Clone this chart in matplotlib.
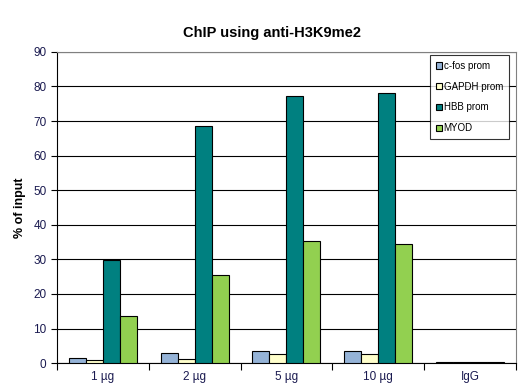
import numpy as np
import matplotlib.pyplot as plt

plt.rcParams['font.family'] = ['Liberation Sans', 'DejaVu Sans']

categorias = ["1 µg", "2 µg", "5 µg", "10 µg", "IgG"]
series = ["c-fos prom", "GAPDH prom", "HBB prom", "MYOD"]
cfos = [1.4, 2.8, 3.4, 3.4, 0.2]
gapdh = [1.0, 1.3, 2.5, 2.5, 0.2]
hbb = [29.8, 68.5, 77.2, 78.1, 0.2]
myod = [13.6, 25.6, 35.4, 34.3, 0.2]
cores = ["#95B3D7", "#FFFFCC", "#008080", "#92D050"]

fig = plt.figure(figsize=(5.27, 3.90), dpi=100)
ax = fig.add_axes([0.108, 0.069, 0.871, 0.798])

x = np.arange(len(categorias))
w = 0.185
valores = [cfos, gapdh, hbb, myod]
for i, (nome, v, c) in enumerate(zip(series, valores, cores)):
    ax.bar(x + (i - 1.5) * w, v, w, color=c, edgecolor="black", linewidth=0.8,
           label=nome, zorder=3)

ax.set_xlim(-0.5, len(categorias) - 0.5)
ax.set_ylim(0, 90)
ax.set_yticks(range(0, 91, 10))
ax.yaxis.grid(True, color="black", linewidth=0.8, zorder=0)
ax.set_xticks(x)
ax.set_xticklabels(categorias, fontsize=8.5)
ax.set_xticks(np.arange(-0.5, len(categorias)), minor=True)
ax.tick_params(axis="x", which="major", length=0, pad=6)
ax.tick_params(axis="x", which="minor", length=5, direction="out", width=0.8)
ax.tick_params(axis="y", length=4, direction="out", width=0.8, labelsize=8.5,
               labelcolor="#1a1a50")
ax.tick_params(axis="x", labelcolor="#1a1a50")
ax.spines["top"].set_color("gray")
ax.spines["right"].set_color("gray")
ax.spines["left"].set_linewidth(0.8)
ax.spines["bottom"].set_linewidth(0.8)

ax.set_ylabel("% of input", fontsize=9, fontweight="bold", labelpad=5)
fig.text(272 / 527, 1 - 33 / 390, "ChIP using anti-H3K9me2", fontsize=10.5,
         fontweight="bold", ha="center", va="center")

leg = ax.legend(loc="upper right", bbox_to_anchor=(0.995, 1.005), fontsize=7,
                frameon=True, fancybox=False, handlelength=0.6, handleheight=0.6,
                handletextpad=0.2, labelspacing=1.1, borderpad=0.6)
leg.get_frame().set_edgecolor("black")
leg.get_frame().set_linewidth(0.8)

fig.savefig("out.png", dpi=100)
